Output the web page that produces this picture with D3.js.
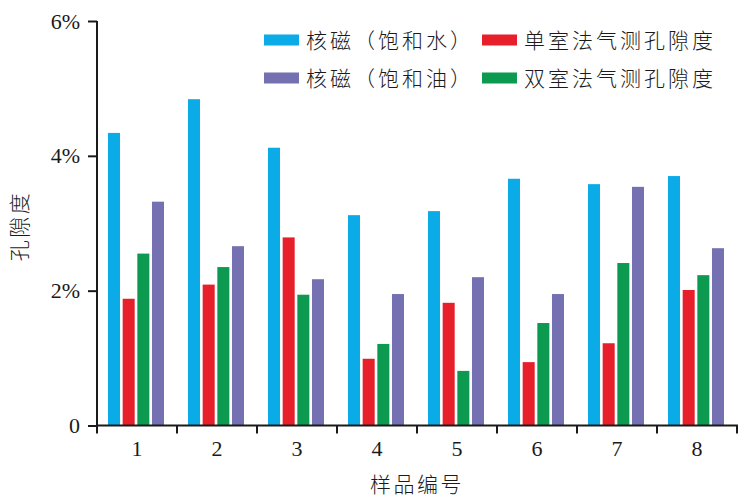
<!DOCTYPE html>
<html>
<head>
<meta charset="utf-8">
<script src="https://cdn.jsdelivr.net/npm/d3@7/dist/d3.min.js"></script>
<style>
  html, body { margin: 0; padding: 0; background: #fff; }
  svg { display: block; }
</style>
</head>
<body>
<svg id="chart" width="745" height="504"></svg>
<script>
// ---- data ----
const categories = ["1", "2", "3", "4", "5", "6", "7", "8"];
const seriesNames = ["核磁（饱和水）", "单室法气测孔隙度", "双室法气测孔隙度", "核磁（饱和油）"];
const nmrWater = [4.34, 4.84, 4.12, 3.12, 3.18, 3.66, 3.58, 3.70];
const singleChamber = [1.88, 2.09, 2.79, 0.99, 1.82, 0.94, 1.22, 2.01];
const doubleChamber = [2.55, 2.35, 1.94, 1.21, 0.81, 1.52, 2.41, 2.23];
const nmrOil = [3.32, 2.66, 2.17, 1.95, 2.20, 1.95, 3.54, 2.63];
const yTicks = [0, 2, 4, 6];
const yTickLabels = ["0", "2%", "4%", "6%"];
const legendOrder = ["核磁（饱和水）", "单室法气测孔隙度", "核磁（饱和油）", "双室法气测孔隙度"];
const xTitle = "样品编号";
const yTitle = "孔隙度";

const seriesValues = [nmrWater, singleChamber, doubleChamber, nmrOil];
const colors = ["#0aabe7", "#e71f2a", "#0b9a4f", "#7470b1"];

// ---- layout ----
const svg = d3.select("#chart");
const mLeft = 97, mRight = 737, mTop = 21, mBottom = 425.5;

const x0 = d3.scaleBand().domain(categories).range([mLeft, mRight]).padding(0);
const x1 = d3.scaleBand().domain(seriesNames).range([11, 67]).paddingInner(0.18).paddingOuter(0);
const y = d3.scaleLinear().domain([0, 6]).range([mBottom, mTop]);
const color = d3.scaleOrdinal().domain(seriesNames).range(colors);

const serif = "'Liberation Serif', 'Times New Roman', serif";
const cjk = "'Noto Sans CJK SC', 'Noto Sans', sans-serif";

// bars
const groups = svg.append("g").selectAll("g")
  .data(categories)
  .join("g")
  .attr("transform", d => `translate(${x0(d)},0)`);

groups.selectAll("rect")
  .data((d, i) => seriesNames.map((s, k) => ({ s, v: seriesValues[k][i] })))
  .join("rect")
  .attr("x", d => x1(d.s))
  .attr("width", x1.bandwidth())
  .attr("y", d => y(d.v))
  .attr("height", d => y(0) - y(d.v))
  .attr("fill", d => color(d.s));

// y axis
const yAxis = d3.axisLeft(y)
  .tickValues(yTicks)
  .tickFormat((d, i) => yTickLabels[i])
  .tickSize(9)
  .tickPadding(8);
const gy = svg.append("g").attr("transform", `translate(${mLeft},0)`).call(yAxis);
gy.select(".domain").attr("d", `M0,${mTop}V${mBottom}`).attr("stroke", "#1a1a1a").attr("stroke-width", 2);
gy.selectAll(".tick line").attr("stroke", "#1a1a1a").attr("stroke-width", 2);
gy.selectAll(".tick text").attr("font-family", serif).attr("font-size", 22).attr("fill", "#1a1a1a");

// x axis
const xAxis = d3.axisBottom(x0).tickSize(0).tickPadding(15);
const gx = svg.append("g").attr("transform", `translate(0,${mBottom})`).call(xAxis);
gx.select(".domain").attr("d", `M${mLeft - 1},0H${mRight + 1}`).attr("stroke", "#1a1a1a").attr("stroke-width", 2);
gx.selectAll(".tick text").attr("font-family", serif).attr("font-size", 22).attr("fill", "#1a1a1a");
// boundary ticks
const bounds = categories.map(c => x0(c)).concat([mRight]);
gx.selectAll("line.bound").data(bounds).join("line")
  .attr("class", "bound")
  .attr("x1", d => d).attr("x2", d => d)
  .attr("y1", 0).attr("y2", 8)
  .attr("stroke", "#1a1a1a").attr("stroke-width", 2);

// axis titles
svg.append("text")
  .attr("x", (mLeft + mRight) / 2).attr("y", 492)
  .attr("text-anchor", "middle")
  .attr("font-family", cjk).attr("font-size", 21).attr("font-weight", 300)
  .attr("letter-spacing", 2.5)
  .attr("fill", "#1a1a1a")
  .text(xTitle);

svg.append("text")
  .attr("transform", "translate(27,226) rotate(-90)")
  .attr("text-anchor", "middle")
  .attr("font-family", cjk).attr("font-size", 21).attr("font-weight", 300)
  .attr("letter-spacing", 2.5)
  .attr("fill", "#1a1a1a")
  .text(yTitle);

// legend
const legendX = [264, 482];
const legendY = [40, 78];
const lg = svg.append("g").selectAll("g")
  .data(legendOrder)
  .join("g")
  .attr("transform", (d, i) => `translate(${legendX[i % 2]},${legendY[Math.floor(i / 2)]})`);
lg.append("rect")
  .attr("x", 0).attr("y", -5.5)
  .attr("width", 35).attr("height", 11)
  .attr("fill", d => color(d));
lg.append("text")
  .attr("x", 42).attr("y", 0)
  .attr("dy", "0.36em")
  .attr("font-family", cjk).attr("font-size", 21).attr("font-weight", 300)
  .attr("letter-spacing", 3)
  .attr("fill", "#1a1a1a")
  .text(d => d);
</script>
</body>
</html>
